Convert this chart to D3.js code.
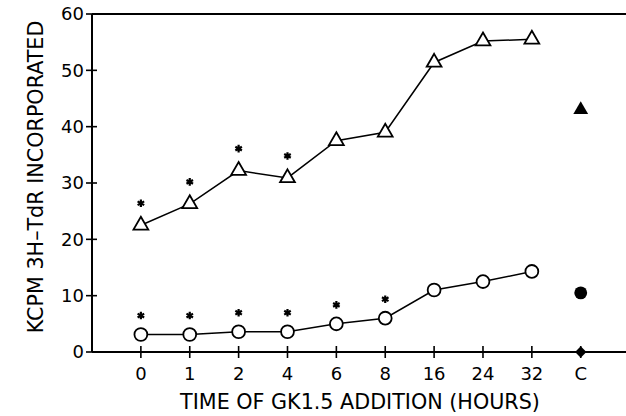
<!DOCTYPE html>
<html>
<head>
<meta charset="utf-8">
<script src="https://cdn.jsdelivr.net/npm/d3@7"></script>
<style>
  body { margin: 0; background: #fff; }
  text { font-family: "DejaVu Sans", sans-serif; fill: #000; }
</style>
</head>
<body>
<script>
// time points (hours) plus control "C"
var categories = ["0", "1", "2", "4", "6", "8", "16", "24", "32"];
var controlLabel = "C";
var triangleValues = [22.5, 26.3, 32.2, 30.9, 37.5, 39.0, 51.4, 55.2, 55.5];
var circleValues = [3.1, 3.1, 3.6, 3.6, 5.0, 6.0, 11.0, 12.5, 14.3];
var triangleStars = [true, true, true, true, false, false, false, false, false];
var circleStars = [true, true, true, true, true, true, false, false, false];
var controlTriangle = 43.0;
var controlCircle = 10.5;
var controlDiamond = 0;
var yTicks = [0, 10, 20, 30, 40, 50, 60];

var width = 626, height = 416;

var svg = d3.select("body").append("svg")
    .attr("width", width)
    .attr("height", height);

var allLabels = categories.concat([controlLabel]);

// index based x scale, one empty slot left of "0"
var x = d3.scaleLinear().domain([-1, allLabels.length]).range([92, 629.6]);
var y = d3.scaleLinear().domain([0, 60]).range([352, 14]);

// frame lines: left axis, top line, bottom line
svg.append("line")
    .attr("x1", x(-1)).attr("x2", x(-1))
    .attr("y1", y(60)).attr("y2", y(0))
    .attr("stroke", "#000").attr("stroke-width", 2);
svg.append("line")
    .attr("x1", x(-1)).attr("x2", width)
    .attr("y1", y(60)).attr("y2", y(60))
    .attr("stroke", "#000").attr("stroke-width", 2);
svg.append("line")
    .attr("x1", x(-1)).attr("x2", width)
    .attr("y1", y(0)).attr("y2", y(0))
    .attr("stroke", "#000").attr("stroke-width", 2);

// y ticks, crossing the axis
var yt = svg.append("g");
yt.selectAll("line").data(yTicks).enter().append("line")
    .attr("x1", x(-1) - 6).attr("x2", x(-1) + 5)
    .attr("y1", function(d) { return y(d); })
    .attr("y2", function(d) { return y(d); })
    .attr("stroke", "#000").attr("stroke-width", 1.6);
yt.selectAll("text").data(yTicks).enter().append("text")
    .attr("x", x(-1) - 8)
    .attr("y", function(d) { return y(d); })
    .attr("dy", "0.36em")
    .attr("text-anchor", "end")
    .attr("font-size", 18)
    .text(function(d) { return d; });

// x ticks
var xt = svg.append("g");
xt.selectAll("line").data(allLabels).enter().append("line")
    .attr("x1", function(d, i) { return x(i); })
    .attr("x2", function(d, i) { return x(i); })
    .attr("y1", y(0) - 6).attr("y2", y(0) + 6)
    .attr("stroke", "#000").attr("stroke-width", 1.6);
xt.selectAll("text").data(allLabels).enter().append("text")
    .attr("x", function(d, i) { return x(i); })
    .attr("y", 380)
    .attr("text-anchor", "middle")
    .attr("font-size", 18)
    .text(function(d) { return d; });

// axis titles
svg.append("text")
    .attr("x", 360).attr("y", 409)
    .attr("text-anchor", "middle")
    .attr("font-size", 20.7)
    .text("TIME OF GK1.5 ADDITION (HOURS)");

svg.append("text")
    .attr("transform", "translate(43,177) rotate(-90)")
    .attr("text-anchor", "middle")
    .attr("font-size", 20.7)
    .text("KCPM 3H\u2013TdR INCORPORATED");

var line = d3.line()
    .x(function(d, i) { return x(i); })
    .y(function(d) { return y(d); });

function drawSeries(values, shape, size, stars, starGap) {
  var g = svg.append("g");
  g.append("path")
      .datum(values)
      .attr("d", line)
      .attr("fill", "none")
      .attr("stroke", "#000")
      .attr("stroke-width", 1.5);
  g.selectAll(".pt").data(values).enter().append("path")
      .attr("class", "pt")
      .attr("transform", function(d, i) { return "translate(" + x(i) + "," + y(d) + ")"; })
      .attr("d", d3.symbol().type(shape).size(size))
      .attr("fill", "#fff")
      .attr("stroke", "#000")
      .attr("stroke-width", 1.8);
  g.selectAll(".star").data(values).enter().append("path")
      .attr("class", "star")
      .attr("display", function(d, i) { return stars[i] ? null : "none"; })
      .attr("transform", function(d, i) { return "translate(" + x(i) + "," + (y(d) - starGap) + ")"; })
      .attr("d", d3.symbol().type(d3.symbolAsterisk).size(40))
      .attr("fill", "none")
      .attr("stroke", "#000")
      .attr("stroke-width", 2.2);
}

drawSeries(triangleValues, d3.symbolTriangle, 95, triangleStars, 22);
drawSeries(circleValues, d3.symbolCircle, 130, circleStars, 19);

// control points at "C"
var ci = allLabels.length - 1;
svg.append("path")
    .attr("transform", "translate(" + x(ci) + "," + y(controlTriangle) + ")")
    .attr("d", d3.symbol().type(d3.symbolTriangle).size(95));
svg.append("path")
    .attr("transform", "translate(" + x(ci) + "," + y(controlCircle) + ")")
    .attr("d", d3.symbol().type(d3.symbolCircle).size(130));
svg.append("path")
    .attr("transform", "translate(" + x(ci) + "," + y(controlDiamond) + ") rotate(45)")
    .attr("d", d3.symbol().type(d3.symbolSquare).size(64));
</script>
</body>
</html>
